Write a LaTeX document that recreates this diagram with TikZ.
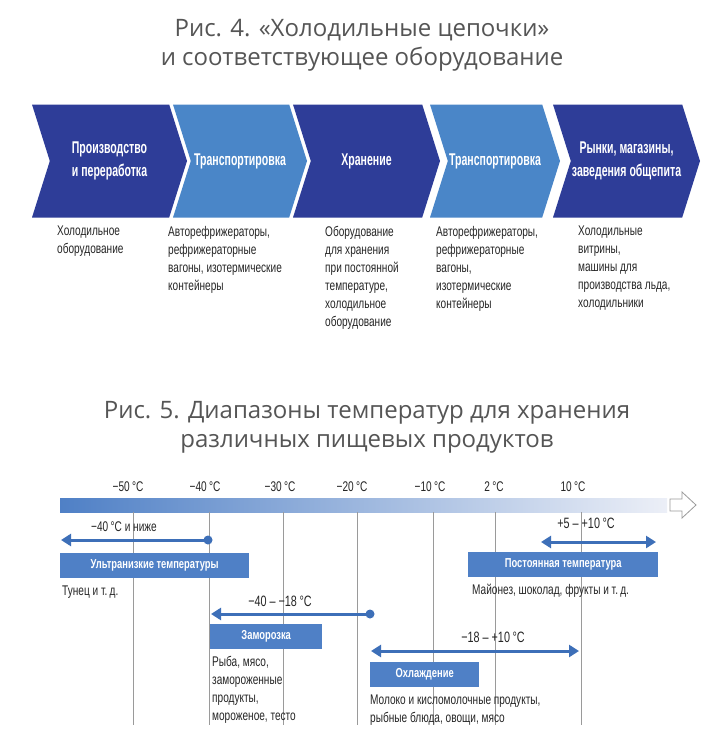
\documentclass[tikz,border=0pt]{standalone}
\usepackage{fontspec}
\setmainfont{Open Sans}
\newfontfamily\narrowfont[FakeStretch=0.72]{Liberation Sans}
\newfontfamily\chainfont[FakeStretch=0.62]{Liberation Sans}
\usepackage{tikz}
\usetikzlibrary{arrows.meta,positioning,shapes.symbols}
\definecolor{chaindark}{HTML}{2E3D98}
\definecolor{chainlight}{HTML}{4A86C8}
\definecolor{rangeblue}{HTML}{3D6FB8}
\definecolor{bandblue}{HTML}{4F80C6}
\definecolor{barpale}{HTML}{ECEFF7}
\definecolor{titlegray}{HTML}{555555}
\definecolor{gridgray}{HTML}{9A9A9A}
\newcommand{\degC}{\,°C}

\begin{document}
\begin{tikzpicture}[
    x=1pt, y=-1pt,
    chainstep/.style={signal, signal from=west, signal to=east, signal pointer angle=145,
        minimum height=113pt, inner sep=0pt, outer sep=0pt, text=white, align=center,
        font=\chainfont\bfseries\fontsize{17}{23}\selectfont},
    darkstep/.style={chainstep, fill=chaindark},
    lightstep/.style={chainstep, fill=chainlight},
    notetext/.style={anchor=north west, align=left, inner sep=0pt,
        font=\narrowfont\fontsize{14}{18}\selectfont, text=black!85},
    titletext/.style={align=center, inner sep=0pt, font=\fontsize{24}{29}\selectfont, text=titlegray},
    degree/.style={inner sep=0pt, font=\narrowfont\fontsize{14}{16}\selectfont, text=black!85},
    gridline/.style={gridgray, line width=1pt},
    spanarrow/.style={rangeblue, line width=3pt, -{Triangle[length=10pt,width=12pt]}},
    spanboth/.style={rangeblue, line width=3pt, {Triangle[length=10pt,width=12pt]}-{Triangle[length=10pt,width=12pt]}},
    bandbox/.style={anchor=north west, fill=bandblue, minimum height=25pt, inner sep=0pt,
        text=white, font=\narrowfont\bfseries\fontsize{13}{15}\selectfont}
]
    \useasboundingbox[fill=white] (0,0) rectangle (710,752);

    % Fig. 4
    \node[titletext] (title4) at (362,45) {Рис. 4. «Холодильные цепочки»\\и соответствующее оборудование};

    \node[darkstep, minimum width=155pt] (make) at (109.5,161) {Производство\\и переработка};
    \node[lightstep, minimum width=134pt] (ship1) at (240,161) {Транспортировка};
    \node[darkstep, minimum width=147pt] (store) at (366.5,161) {Хранение};
    \node[lightstep, minimum width=130pt] (ship2) at (495,161) {Транспортировка};
    \node[darkstep, minimum width=147pt] (sell) at (626.5,161) {Рынки, магазины,\\заведения общепита};

    \node[notetext] (makenote) at (57,226) {Холодильное\\оборудование};
    \node[notetext] (ship1note) at (168,226) {Авторефрижераторы,\\рефрижераторные\\вагоны, изотермические\\контейнеры};
    \node[notetext] (storenote) at (325,226) {Оборудование\\для хранения\\при постоянной\\температуре,\\холодильное\\оборудование};
    \node[notetext] (ship2note) at (436,226) {Авторефрижераторы,\\рефрижераторные\\вагоны,\\изотермические\\контейнеры};
    \node[notetext] (sellnote) at (578,226) {Холодильные\\витрины,\\машины для\\производства льда,\\холодильники};

    % Fig. 5
    \node[titletext] (title5) at (367,427) {Рис. 5. Диапазоны температур для хранения\\различных пищевых продуктов};

    \shade[left color=bandblue, right color=barpale] (60,498) rectangle (667,512);
    \draw[gridgray, fill=white, line width=0.8pt] (670,499) -- (682,499) -- (682,492) -- (696,505)
        -- (682,518) -- (682,511) -- (670,511) -- cycle;

    \foreach \gx/\lx/\tl [count=\i] in {133/128/−50, 209/205/−40, 283/280/−30, 357/352/−20,
                                         433/430/−10, 495/494/2, 581/573/10} {
        \node[degree] (deg\i) at (\lx,487) {\tl\degC};
        \draw[gridline] (\gx,512) -- (\gx,725);
    }

    % ultra low
    \node[degree] (ultralbl) at (124,527) {−40\degC{} и ниже};
    \coordinate (ultradot) at (208,540);
    \coordinate (ultraend) at (61,540);
    \draw[spanarrow] (ultradot) -- (ultraend);
    \fill[rangeblue] (ultradot) circle (4.5pt);
    \node[bandbox, minimum width=189pt] (ultra) at (60,553) {Ультранизкие температуры};
    \node[notetext, below right=7pt and 2pt of ultra.south west, anchor=north west] (ultranote) {Тунец и т.\,д.};

    % constant
    \node[degree, font=\narrowfont\fontsize{15}{17}\selectfont] (constlbl) at (586,523) {+5 – +10\degC};
    \coordinate (constleft) at (541,542);
    \coordinate (constright) at (656,542);
    \draw[spanboth] (constleft) -- (constright);
    \node[bandbox, minimum width=190pt] (const) at (468,552) {Постоянная температура};
    \node[notetext, below right=7pt and 4pt of const.south west, anchor=north west] (constnote) {Майонез, шоколад, фрукты и т.\,д.};

    % frozen
    \node[degree, font=\narrowfont\fontsize{15}{17}\selectfont] (frozlbl) at (280,601) {−40 – −18\degC};
    \coordinate (frozdot) at (370,614);
    \coordinate (frozend) at (211,614);
    \draw[spanarrow] (frozdot) -- (frozend);
    \fill[rangeblue] (frozdot) circle (4.5pt);
    \node[bandbox, minimum width=112pt] (froz) at (210,624) {Заморозка};
    \node[notetext, below right=7pt and 2pt of froz.south west, anchor=north west] (froznote) {Рыба, мясо,\\замороженные\\продукты,\\мороженое, тесто};

    % chilled
    \node[degree, font=\narrowfont\fontsize{15}{17}\selectfont] (chilllbl) at (493,637) {−18 – +10\degC};
    \coordinate (chillleft) at (371,651);
    \coordinate (chillright) at (579,651);
    \draw[spanboth] (chillleft) -- (chillright);
    \node[bandbox, minimum width=109pt] (chill) at (370,662) {Охлаждение};
    \node[notetext, below right=7pt and 0pt of chill.south west, anchor=north west] (chillnote) {Молоко и кисломолочные продукты,\\рыбные блюда, овощи, мясо};
\end{tikzpicture}
\end{document}
